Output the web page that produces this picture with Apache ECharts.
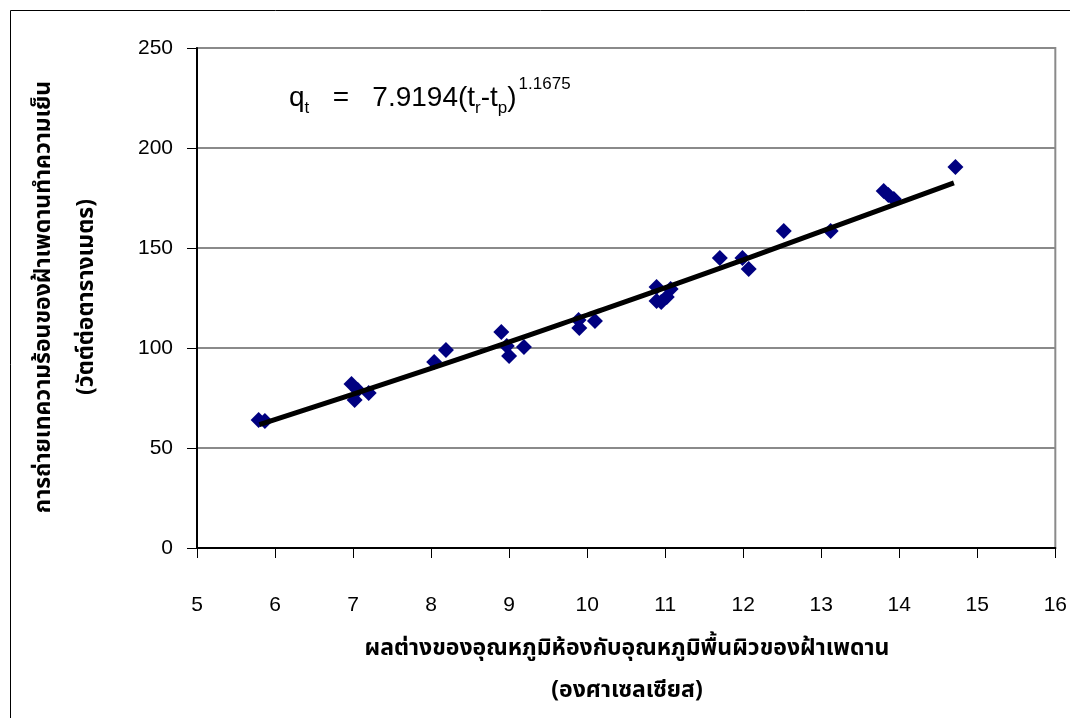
<!DOCTYPE html>
<html>
<head>
<meta charset="utf-8">
<script src="https://cdn.jsdelivr.net/npm/echarts@6/dist/echarts.min.js"></script>
<style>
  html, body { margin: 0; padding: 0; background: #fff; }
  #chart { width: 1070px; height: 718px; }
</style>
</head>
<body>
<div id="chart"></div>
<script>
// Measured heat transfer of the chilled ceiling vs. temperature difference
var tempDiff = [5.79, 5.87, 6.98, 7.02, 7.06, 7.20, 8.04, 8.19, 8.90, 8.97, 9.00, 9.19,
                9.89, 9.90, 10.10, 10.89, 10.89, 10.95, 11.02, 11.07, 11.70, 11.99, 12.07,
                12.52, 13.12, 13.80, 13.86, 13.93, 14.72];
var heatFlux = [64, 63.5, 82, 74, 79, 77.5, 93, 99, 108, 101, 96, 100.5,
                114, 110, 113.5, 130.5, 123.5, 123, 125.5, 129.5, 145, 145, 139.5,
                158.5, 158.5, 178.5, 176.5, 174.5, 190.5];

// Fitted power curve q = 7.9194 (tr - tp)^1.1675
var fitX = [5.8, 8, 10, 12, 14.7];
var fitY = [61.7, 89.8, 116.5, 144.1, 182.6];

var xTicks = { min: 5, max: 16, step: 1 };
var yTicks = { min: 0, max: 250, step: 50 };

var xTitle = 'ผลต่างของอุณหภูมิห้องกับอุณหภูมิพื้นผิวของฝ้าเพดาน\n(องศาเซลเซียส)';
var yTitle = 'การถ่ายเทความร้อนของฝ้าเพดานทำความเย็น\n(วัตต์ต่อตารางเมตร)';

var thaiFont = '"Noto Sans Thai", "Noto Sans", Loma, Garuda, Tahoma, sans-serif';
var numFont = '"Liberation Sans", Arial, sans-serif';

var scatterData = tempDiff.map(function (x, i) { return [x, heatFlux[i]]; });
var fitData = fitX.map(function (x, i) { return [x, fitY[i]]; });

var chart = echarts.init(document.getElementById('chart'), null, { renderer: 'canvas' });

chart.setOption({
  animation: false,
  backgroundColor: '#ffffff',
  grid: {
    left: 197, right: 12, top: 48, bottom: 170,
    show: true, borderColor: '#8a8a8a', borderWidth: 2, backgroundColor: 'transparent'
  },
  xAxis: {
    type: 'value',
    min: xTicks.min, max: xTicks.max, interval: xTicks.step,
    axisLine: { show: true, lineStyle: { color: '#000', width: 2 } },
    axisTick: { show: true, inside: false, length: 10, lineStyle: { color: '#000', width: 1 } },
    axisLabel: { margin: 47, color: '#000', fontFamily: numFont, fontSize: 21 },
    splitLine: { show: false }
  },
  yAxis: {
    type: 'value',
    min: yTicks.min, max: yTicks.max, interval: yTicks.step,
    axisLine: { show: true, lineStyle: { color: '#000', width: 2 } },
    axisTick: { show: true, inside: false, length: 10, lineStyle: { color: '#000', width: 1 } },
    axisLabel: { margin: 24, color: '#000', fontFamily: numFont, fontSize: 21 },
    splitLine: { show: true, lineStyle: { color: '#8a8a8a', width: 2 } }
  },
  series: [
    {
      type: 'scatter',
      data: scatterData,
      symbol: 'diamond',
      symbolSize: 16,
      itemStyle: { color: '#000080', opacity: 1 },
      z: 2
    },
    {
      type: 'line',
      data: fitData,
      smooth: true,
      showSymbol: false,
      lineStyle: { color: '#000', width: 5 },
      z: 3
    }
  ],
  graphic: [
    {
      type: 'rect',
      shape: { x: 10.5, y: 10.5, width: 1200, height: 1200 },
      style: { fill: 'none', stroke: '#000', lineWidth: 1 },
      silent: true
    },
    {
      type: 'text',
      x: 289, y: 76,
      style: {
        text: '{m|q}{s|t}{m|   =   7.9194(t}{s|r}{m|-t}{s|p}{m|)}{p|1.1675}',
        fill: '#000',
        font: '28px "Liberation Sans", Arial, sans-serif',
        rich: {
          m: { fontSize: 28, lineHeight: 44, fontFamily: '"Liberation Sans", Arial, sans-serif', verticalAlign: 'middle' },
          s: { fontSize: 17, lineHeight: 17, fontFamily: '"Liberation Sans", Arial, sans-serif', verticalAlign: 'bottom', padding: [0, 0, 3, 0] },
          p: { fontSize: 17, lineHeight: 17, fontFamily: '"Liberation Sans", Arial, sans-serif', verticalAlign: 'top', padding: [0, 0, 0, 2] }
        }
      }
    },
    {
      type: 'text',
      x: 627, y: 671,
      style: {
        text: xTitle,
        fill: '#000',
        font: 'bold 23px ' + thaiFont,
        lineHeight: 42,
        align: 'center',
        verticalAlign: 'middle'
      }
    },
    {
      type: 'text',
      x: 67, y: 297,
      rotation: Math.PI / 2,
      style: {
        text: yTitle,
        fill: '#000',
        font: 'bold 23px ' + thaiFont,
        lineHeight: 43,
        align: 'center',
        verticalAlign: 'middle'
      }
    }
  ]
});
</script>
</body>
</html>
